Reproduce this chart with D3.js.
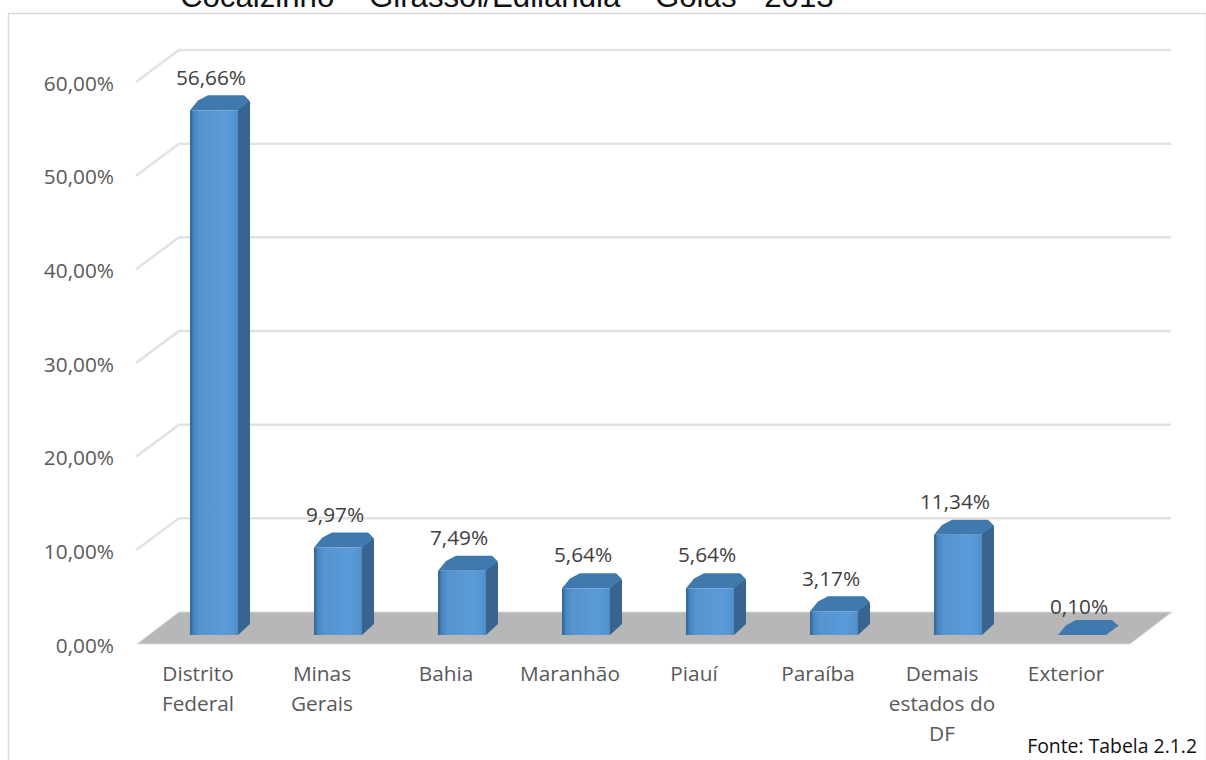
<!DOCTYPE html>
<html><head><meta charset="utf-8">
<style>html,body{margin:0;padding:0;background:#fff}svg{display:block}</style>
<script src="https://cdn.jsdelivr.net/npm/d3@7"></script></head>
<body><div id="c"></div>
<script>
const categories=[["Distrito","Federal"],["Minas","Gerais"],["Bahia"],["Maranhão"],["Piauí"],["Paraíba"],["Demais","estados do","DF"],["Exterior"]];
const values=[56.66,9.97,7.49,5.64,5.64,3.17,11.34,0.10];
const valueLabels=["56,66%","9,97%","7,49%","5,64%","5,64%","3,17%","11,34%","0,10%"];
const tickValues=[0,10,20,30,40,50,60];
const tickLabels=["0,00%","10,00%","20,00%","30,00%","40,00%","50,00%","60,00%"];
const titleText="Cocalzinho – Girassol/Edilândia – Goiás - 2013";
const sourceText="Fonte: Tabela 2.1.2";

const W=1206,H=760,font="'Open Sans', Lato, sans-serif",fs=20.8;
const svg=d3.select("#c").append("svg").attr("width",W).attr("height",H);
const defs=svg.append("defs");
const g=defs.append("linearGradient").attr("id","front");
[[0,"#2f5f8f"],[0.08,"#4a86c0"],[0.2,"#5593cf"],[0.72,"#5b9bd9"],[0.92,"#5595d1"],[1,"#4f8cc4"]].forEach(s=>g.append("stop").attr("offset",s[0]).attr("stop-color",s[1]));

const x=d3.scaleBand().domain(d3.range(categories.length)).range([137,1129]);
const yFront=d3.scaleLinear().domain([0,60]).range([644,82]);
const dx=42,dy=-32;              // floor depth
const barIn=15, barTop=-3, barBase=635, bw=48, bdx=12, bdy=-15, ch=5;

svg.append("text").attr("x",180).attr("y",7).attr("font-family","Liberation Sans, Arial, sans-serif").attr("font-size",31.2).attr("fill","#111").text(titleText);
svg.append("rect").attr("x",8.5).attr("y",13.5).attr("width",W-8).attr("height",H).attr("fill","#fff").attr("stroke","#d9d9d9").attr("stroke-width",1.5);

// gridlines
const gl=svg.append("g");
tickValues.filter(t=>t>0).forEach(t=>{
  const y=yFront(t);
  gl.append("path").attr("fill","none").attr("stroke","#e2e2e2").attr("stroke-width",2.5)
    .attr("d",`M${x.range()[0]-1},${y}L${x.range()[0]+dx},${y+dy}L${x.range()[1]+dx},${y+dy}`);
});
// floor
const y0=yFront(0);
svg.append("path").attr("fill","#b7b7b7").attr("stroke","#dcdcdc").attr("stroke-width",1)
  .attr("d",`M${x.range()[0]},${y0}L${x.range()[0]+dx},${y0+dy}L${x.range()[1]+dx+1},${y0+dy}L${x.range()[1]+1},${y0}Z`);

// tick labels
svg.append("g").selectAll("text").data(tickValues).join("text")
  .attr("x",114).attr("y",d=>yFront(d)+1.5).attr("dy","0.35em").attr("text-anchor","end")
  .attr("font-family",font).attr("font-size",fs).attr("fill","#595959")
  .text((d,i)=>tickLabels[i]);

// bars
const bars=svg.append("g").selectAll("g").data(values).join("g");
const barLeft=i=>x(i)+x.bandwidth()/2+barIn-bw/2;
const barY=d=>Math.min(barBase,yFront(d)+barTop);
bars.append("path").attr("fill","#38648f").attr("d",(d,i)=>{ // side
  const l=barLeft(i)+bw,t=barY(d);
  return `M${l},${t}L${l+bdx-ch},${t+bdy+1}L${l+bdx},${t+bdy+ch+2}L${l+bdx},${barBase+bdy+4}L${l},${barBase}Z`;
});
bars.append("path").attr("fill","#3f79ad").attr("d",(d,i)=>{ // top
  const l=barLeft(i),t=barY(d);
  return `M${l},${t}L${l+8},${t+bdy*0.65}L${l+18},${t+bdy}L${l+bw+bdx-6},${t+bdy}L${l+bw+bdx},${t+bdy+6}L${l+bw},${t}Z`;
});
bars.filter(d=>barY(d)<barBase).append("path").attr("fill","url(#front)").attr("d",(d,i)=>{
  const l=barLeft(i),t=barY(d);
  return `M${l},${barBase}L${l},${t}L${l+bw},${t}L${l+bw},${barBase}Z`;
});

// data labels
svg.append("g").selectAll("text").data(values).join("text")
  .attr("x",(d,i)=>x(i)+x.bandwidth()/2+12).attr("y",d=>yFront(d)-36)
  .attr("dy","0.35em").attr("text-anchor","middle").attr("font-family",font).attr("font-size",fs).attr("fill","#404040")
  .text((d,i)=>valueLabels[i]);

// category labels
const cg=svg.append("g").selectAll("text").data(categories).join("text")
  .attr("text-anchor","middle").attr("font-family",font).attr("font-size",fs).attr("fill","#595959");
cg.each(function(d,i){
  d3.select(this).selectAll("tspan").data(d).join("tspan")
    .attr("x",x(i)+x.bandwidth()/2-1).attr("y",(t,k)=>681+k*30).text(t=>t);
});
svg.append("text").attr("x",1197).attr("y",753).attr("text-anchor","end").attr("font-family",font).attr("font-size",19.4).attr("fill","#111").text(sourceText);
</script></body></html>
